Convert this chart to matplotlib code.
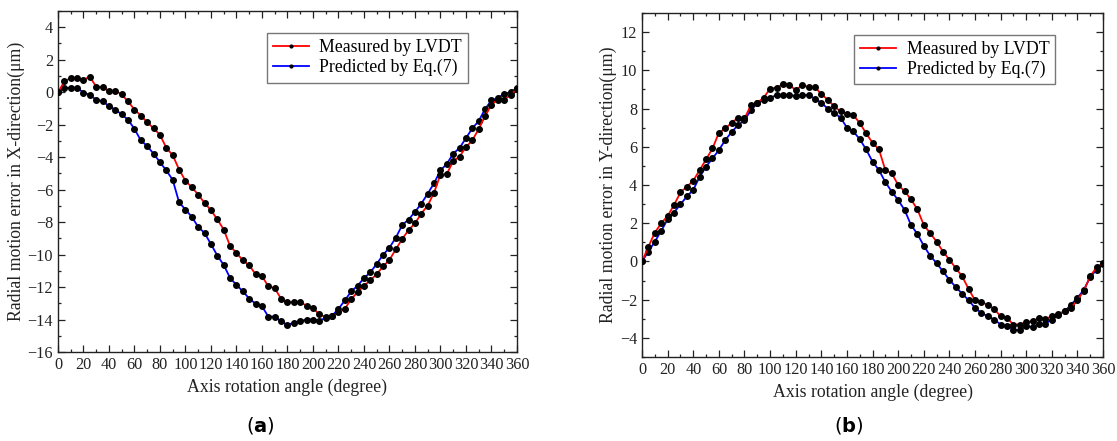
import numpy as np
import matplotlib
matplotlib.use("Agg")
import matplotlib.pyplot as plt
from matplotlib.ticker import MultipleLocator

plt.rcParams['font.family'] = ['Liberation Serif', 'DejaVu Serif']
plt.rcParams['mathtext.fontset'] = 'dejavusans'

angles = list(range(0, 361, 5))

x_measured = [0, 0.66, 0.88, 0.88, 0.76, 0.96, 0.33, 0.33, 0.06, 0.10,
              -0.14, -0.57, -1.07, -1.44, -1.85, -2.22, -2.63, -3.43, -3.88, -4.76,
              -5.46, -5.85, -6.31, -6.82, -7.27, -7.83, -8.46, -9.47, -9.90, -10.35,
              -10.66, -11.21, -11.32, -11.96, -12.07, -12.72, -12.94, -12.94, -12.94, -13.14,
              -13.29, -13.69, -13.84, -13.80, -13.55, -13.35, -12.73, -12.33, -11.92, -11.59,
              -11.20, -10.73, -10.33, -9.67, -9.04, -8.49, -8.08, -7.47, -6.98, -6.18,
              -5.07, -5.03, -4.25, -3.96, -3.38, -2.97, -2.26, -1.48, -0.76, -0.47,
              -0.47, -0.16, 0.20]

x_predicted = [0, 0.27, 0.27, 0.27, -0.02, -0.16, -0.47, -0.55, -0.86, -1.07,
               -1.37, -1.70, -2.26, -2.97, -3.32, -3.79, -4.31, -4.82, -5.40, -6.78,
               -7.23, -7.68, -8.30, -8.67, -9.36, -10.06, -10.64, -11.44, -11.87, -12.26,
               -12.71, -13.02, -13.18, -13.82, -13.82, -14.12, -14.33, -14.20, -14.10, -14.00,
               -14.00, -14.06, -13.90, -13.76, -13.35, -12.82, -12.27, -11.92, -11.45, -11.10,
               -10.57, -10.02, -9.57, -8.96, -8.18, -7.84, -7.37, -6.86, -6.25, -5.60,
               -4.82, -4.41, -3.79, -3.43, -2.83, -2.22, -1.78, -1.03, -0.51, -0.35,
               -0.10, 0.00, 0.27]

y_measured = [0, 0.78, 1.51, 2.00, 2.38, 2.96, 3.61, 3.91, 4.23, 4.78,
              5.34, 5.91, 6.73, 6.96, 7.25, 7.53, 7.48, 8.17, 8.30, 8.57,
              9.04, 9.10, 9.27, 9.25, 8.96, 9.22, 9.13, 9.13, 8.75, 8.47,
              8.12, 7.85, 7.74, 7.65, 7.25, 6.70, 6.21, 5.86, 4.78, 4.61,
              4.00, 3.68, 3.25, 2.73, 1.91, 1.48, 1.04, 0.52, 0.09, -0.35,
              -0.78, -1.44, -2.03, -2.14, -2.26, -2.49, -2.87, -2.96, -3.30, -3.30,
              -3.18, -3.13, -2.96, -3.01, -2.87, -2.73, -2.61, -2.43, -2.03, -1.53,
              -0.78, -0.30, -0.09]

y_predicted = [0, 0.52, 1.04, 1.60, 2.21, 2.56, 2.99, 3.40, 3.75, 4.43,
               4.96, 5.39, 5.83, 6.35, 6.78, 7.13, 7.39, 7.91, 8.30, 8.47,
               8.57, 8.70, 8.70, 8.70, 8.66, 8.70, 8.70, 8.52, 8.30, 8.00,
               7.77, 7.53, 7.00, 6.80, 6.40, 5.86, 5.22, 4.78, 4.15, 3.65,
               3.21, 2.70, 1.91, 1.44, 0.82, 0.30, -0.09, -0.52, -0.96, -1.34,
               -1.69, -2.03, -2.43, -2.70, -2.87, -3.04, -3.30, -3.36, -3.57, -3.60,
               -3.39, -3.43, -3.27, -3.25, -3.04, -2.78, -2.61, -2.26, -1.91, -1.48,
               -0.82, -0.43, -0.12]

legend_labels = ['Measured by LVDT', 'Predicted by Eq.(7)']
xlabel = 'Axis rotation angle (degree)'
ylabels = ['Radial motion error in X-direction(\u03bcm)',
           'Radial motion error in Y-direction(\u03bcm)']
panel_labels = [r'($\mathbf{a}$)', r'($\mathbf{b}$)']

fig = plt.figure(figsize=(11.17, 4.41), dpi=100)
ax1 = fig.add_axes([0.0519, 0.2018, 0.4109, 0.7732])
ax2 = fig.add_axes([0.5748, 0.1905, 0.4127, 0.7800])

MEAS = {ax1: x_measured, ax2: y_measured}
PRED = {ax1: x_predicted, ax2: y_predicted}

def style(ax, ylim, ylabel, leg_anchor, ylabel_x):
    l1, = ax.plot(angles, MEAS[ax], color='#ff0000', lw=1.3, marker='o',
                  ms=4.0, mfc='black', mec='black', zorder=3)
    l2, = ax.plot(angles, PRED[ax], color='#0000ff', lw=1.3, marker='o',
                  ms=4.0, mfc='black', mec='black', zorder=2)
    ax.set_xlim(0, 360)
    ax.set_ylim(*ylim)
    ax.xaxis.set_major_locator(MultipleLocator(20))
    ax.xaxis.set_minor_locator(MultipleLocator(10))
    ax.yaxis.set_major_locator(MultipleLocator(2))
    ax.yaxis.set_minor_locator(MultipleLocator(1))
    ax.tick_params(which='both', direction='in', top=True, right=True,
                   labelsize=11.7, colors='#222222', width=0.9)
    ax.tick_params(which='major', length=5)
    ax.tick_params(which='minor', length=2.5)
    for s in ax.spines.values():
        s.set_color('#222222')
        s.set_linewidth(1.0)
    ax.set_xlabel(xlabel, fontsize=12.8, color='#222222', labelpad=4)
    ax.set_ylabel(ylabel, fontsize=12.8, color='#222222')
    ax.yaxis.set_label_coords(ylabel_x, 0.5)
    leg = ax.legend([l1, l2], legend_labels, loc='upper left',
                    bbox_to_anchor=leg_anchor, fontsize=12.8, frameon=True,
                    fancybox=False, edgecolor='#777777', framealpha=1,
                    handlelength=2.0, markerscale=0.5, borderpad=0.35,
                    labelspacing=0.15, handletextpad=0.6, borderaxespad=0.0)
    leg.get_frame().set_linewidth(1.0)

style(ax1, (-16, 5), ylabels[0], (0.455, 0.935), -0.072)
style(ax2, (-5, 13), ylabels[1], (0.46, 0.936), -0.054)

fig.text(0.2335, 0.035, panel_labels[0], fontsize=14, ha='center', va='center',
         family='DejaVu Sans')
fig.text(0.760, 0.035, panel_labels[1], fontsize=14, ha='center', va='center',
         family='DejaVu Sans')

fig.savefig('out.png', dpi=100)
